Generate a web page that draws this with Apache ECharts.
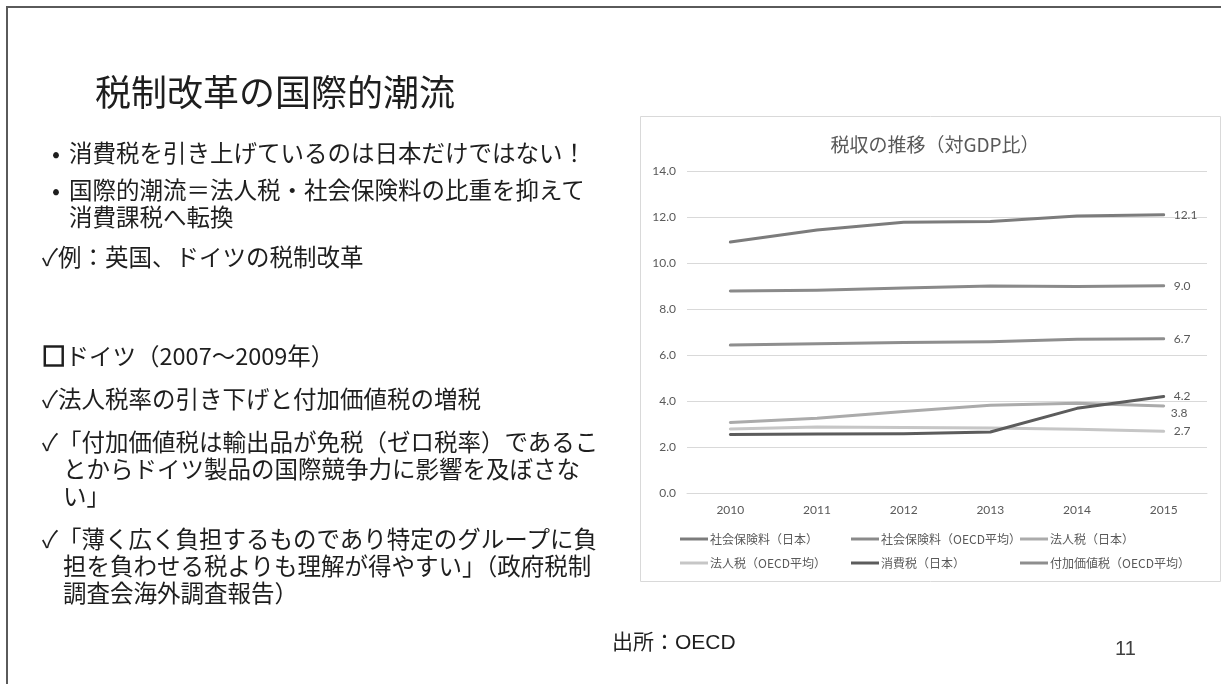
<!DOCTYPE html>
<html>
<head>
<meta charset="utf-8">
<script src="https://cdn.jsdelivr.net/npm/echarts@6/dist/echarts.min.js"></script>
<style>
  html, body { margin: 0; padding: 0; background: #ffffff; }
  #wrap { position: relative; width: 1221px; height: 684px; overflow: hidden; }
  #chart { position: absolute; left: 0; top: 0; width: 1221px; height: 684px; }
  #border { position: absolute; left: 6px; top: 6px; width: 1300px; height: 800px;
            border-left: 2px solid #5a5a5a; border-top: 2px solid #5a5a5a; }
  .t { position: absolute; white-space: nowrap; color: #1e1e1e;
       font-family: "Noto Sans CJK JP", "Noto Sans", sans-serif; font-size: 23.5px; line-height: 28px; }
  .sq { -webkit-text-stroke: 1.6px #1e1e1e; }
</style>
</head>
<body>
<div id="wrap">
  <div id="chart"></div>
  <div id="border"></div>
  <div class="t" style="left:95px; top:70px; font-size:36px; line-height:40px;">税制改革の国際的潮流</div>
  <div class="t" style="left:52px; top:138px;">•</div>
  <div class="t" style="left:69px; top:138px;">消費税を引き上げているのは日本だけではない！</div>
  <div class="t" style="left:52px; top:175px;">•</div>
  <div class="t" style="left:69px; top:175px;">国際的潮流＝法人税・社会保険料の比重を抑えて</div>
  <div class="t" style="left:69px; top:202px;">消費課税へ転換</div>
  <div class="t" style="left:42px; top:242px;">✓例：英国、ドイツの税制改革</div>
  <div class="t" style="left:42px; top:341px;"><span class="sq">□</span>ドイツ（2007〜2009年）</div>
  <div class="t" style="left:42px; top:384px;">✓法人税率の引き下げと付加価値税の増税</div>
  <div class="t" style="left:42px; top:427px;">✓「付加価値税は輸出品が免税（ゼロ税率）であるこ</div>
  <div class="t" style="left:63px; top:454px;">とからドイツ製品の国際競争力に影響を及ぼさな</div>
  <div class="t" style="left:63px; top:481px;">い」</div>
  <div class="t" style="left:42px; top:524px;">✓「薄く広く負担するものであり特定のグループに負</div>
  <div class="t" style="left:63px; top:551px;">担を負わせる税よりも理解が得やすい」（政府税制</div>
  <div class="t" style="left:63px; top:578px;">調査会海外調査報告）</div>
  <div class="t" style="left:612px; top:626px; font-size:21px;">出所：<span style="font-family:'Liberation Sans', Arial, sans-serif;">OECD</span></div>
  <div class="t" style="left:1115px; top:634px; font-size:20px; color:#404040; font-family:'Liberation Sans', Arial, sans-serif;">11</div>
</div>
<script>
// ---- data ----
var years = ['2010', '2011', '2012', '2013', '2014', '2015'];
var seriesNames = ['社会保険料（日本）', '社会保険料（OECD平均）', '法人税（日本）', '法人税（OECD平均）', '消費税（日本）', '付加価値税（OECD平均）'];
var socialJapan = [10.91, 11.43, 11.77, 11.80, 12.04, 12.10];
var socialOECD = [8.78, 8.81, 8.91, 9.00, 8.98, 9.01];
var corpJapan = [3.07, 3.25, 3.54, 3.81, 3.90, 3.78];
var corpOECD = [2.78, 2.87, 2.85, 2.83, 2.77, 2.68];
var consumptionJapan = [2.54, 2.57, 2.58, 2.65, 3.68, 4.20];
var vatOECD = [6.43, 6.49, 6.54, 6.58, 6.68, 6.71];
var yTicks = [0, 2, 4, 6, 8, 10, 12, 14];

var values = [socialJapan, socialOECD, corpJapan, corpOECD, consumptionJapan, vatOECD];
var colors = ['#7c7c7c', '#8a8a8a', '#ababab', '#c6c6c6', '#5c5c5c', '#8e8e8e'];
var labelOffsets = [[0, 0], [0, 0], [-3, 7], [0, 0], [0, 0], [0, 0]];

var numFont = 'Lato, "Noto Sans", sans-serif';
var cjkFont = '"Noto Sans CJK JP", "Noto Sans", sans-serif';

var chart = echarts.init(document.getElementById('chart'), null, { renderer: 'canvas' });

function legendCol(left, names) {
  return {
    orient: 'vertical', left: left, top: 532, padding: 0,
    itemWidth: 28, itemHeight: 3, itemGap: 10, icon: 'rect',
    data: names,
    textStyle: { color: '#595959', fontSize: 12, fontFamily: cjkFont, lineHeight: 14, padding: [0, 0, 0, -3] }
  };
}

var series = seriesNames.map(function (name, i) {
  return {
    name: name, type: 'line', data: values[i],
    showSymbol: false, symbol: 'none',
    lineStyle: { color: colors[i], width: 3, cap: 'round', join: 'round' },
    itemStyle: { color: colors[i] },
    endLabel: {
      show: true, distance: 10, offset: labelOffsets[i],
      color: '#595959', fontSize: 12, fontFamily: numFont,
      formatter: function (p) { return Number(p.value).toFixed(1); }
    },
    emphasis: { disabled: true },
    animation: false
  };
});

chart.setOption({
  animation: false,
  title: {
    text: '税収の推移（対GDP比）', left: 930, top: 130, textAlign: 'center',
    textStyle: { color: '#595959', fontSize: 19, fontWeight: 'normal', fontFamily: cjkFont }
  },
  legend: [
    legendCol(680, [seriesNames[0], seriesNames[3]]),
    legendCol(851, [seriesNames[1], seriesNames[4]]),
    legendCol(1020, [seriesNames[2], seriesNames[5]])
  ],
  grid: { left: 687, right: 14, top: 171, bottom: 191, containLabel: false },
  xAxis: {
    type: 'category', data: years, boundaryGap: true,
    axisLine: { show: true, lineStyle: { color: '#d9d9d9', width: 1 } },
    axisTick: { show: false },
    axisLabel: { color: '#595959', fontSize: 12, fontFamily: numFont, margin: 11 }
  },
  yAxis: {
    type: 'value', min: yTicks[0], max: yTicks[yTicks.length - 1], interval: 2,
    axisLine: { show: false }, axisTick: { show: false },
    splitLine: { lineStyle: { color: '#d9d9d9', width: 1 } },
    axisLabel: { color: '#595959', fontSize: 12, fontFamily: numFont, margin: 11,
      formatter: function (v) { return v.toFixed(1); } }
  },
  graphic: [{
    type: 'rect', silent: true, z: -1,
    shape: { x: 640.5, y: 116.5, width: 580, height: 465 },
    style: { fill: 'none', stroke: '#d9d9d9', lineWidth: 1 }
  }],
  series: series
});
</script>
</body>
</html>
